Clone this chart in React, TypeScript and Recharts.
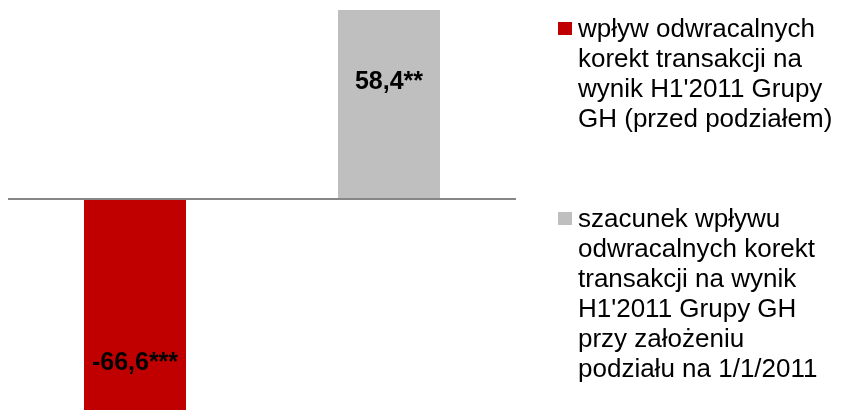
import React from "react";
import { BarChart, Bar, XAxis, YAxis, ReferenceLine, LabelList, Legend } from "recharts";

const categories = ["przed podziałem", "przy założeniu podziału"];
const seriesNames = [
  "wpływ odwracalnych\nkorekt transakcji na\nwynik H1'2011 Grupy\nGH (przed podziałem)",
  "szacunek wpływu\nodwracalnych korekt\ntransakcji na wynik\nH1'2011 Grupy GH\nprzy założeniu\npodziału na 1/1/2011",
];
const seriesA = [-66.6, null];
const seriesB = [null, 58.4];
const labelSuffixes = ["***", "**"];
const colors = ["#C00000", "#BFBFBF"];

const data = categories.map((c, i) => ({ cat: c, a: seriesA[i], b: seriesB[i] }));

const FONT = "'Liberation Sans', Arial, sans-serif";

const suffixFor = (value: number) => {
  for (let i = 0; i < categories.length; i++) {
    if (seriesA[i] === value || seriesB[i] === value) return labelSuffixes[i];
  }
  return "";
};

const renderLabel = (props: any) => {
  const { x, y, width, height, value } = props;
  if (value === null || value === undefined) return null;
  const top = Math.min(y, y + height);
  const h = Math.abs(height);
  const zero = value >= 0 ? top + h : top;
  const baseline = value >= 0 ? zero - 110 : zero + 171;
  const txt = String(value).replace(".", ",") + suffixFor(value);
  return (
    <text
      x={x + width / 2}
      y={baseline}
      textAnchor="middle"
      fontFamily={FONT}
      fontWeight="bold"
      fontSize={25}
      fill="#000"
    >
      {txt}
    </text>
  );
};

const itemTops = [13, 203];

const LegendContent = (props: any) => {
  const payload = [...(props.payload || [])].sort(
    (p: any, q: any) => seriesNames.indexOf(p.value) - seriesNames.indexOf(q.value)
  );
  return (
    <div style={{ position: "relative", width: 842, height: 410, fontFamily: FONT }}>
      {payload.map((p: any, i: number) => (
        <div key={i}>
          <div
            style={{
              position: "absolute",
              left: 558,
              top: itemTops[i] + 9,
              width: 14,
              height: 13,
              background: p.color,
            }}
          />
          <div
            style={{
              position: "absolute",
              left: 578,
              top: itemTops[i],
              fontSize: 26,
              lineHeight: "30px",
              color: "#000",
              whiteSpace: "pre",
            }}
          >
            {p.value}
          </div>
        </div>
      ))}
    </div>
  );
};

export default function App() {
  return (
    <div style={{ position: "fixed", top: 0, left: 0, width: 842, height: 410 }}>
      <BarChart
        width={842}
        height={410}
        data={data}
        margin={{ top: 10, right: 326, bottom: 0, left: 8 }}
        barCategoryGap="30%"
      >
        <XAxis dataKey="cat" hide />
        <YAxis hide domain={[-65.2, 58.4]} allowDataOverflow type="number" />
        <Bar
          dataKey="a"
          name={seriesNames[0]}
          stackId="s"
          fill={colors[0]}
          barSize={102}
          isAnimationActive={false}
        >
          <LabelList dataKey="a" content={renderLabel} />
        </Bar>
        <Bar
          dataKey="b"
          name={seriesNames[1]}
          stackId="s"
          fill={colors[1]}
          barSize={102}
          isAnimationActive={false}
        >
          <LabelList dataKey="b" content={renderLabel} />
        </Bar>
        <ReferenceLine y={0} stroke="#878787" strokeWidth={2} />
        <Legend
          layout="vertical"
          align="center"
          verticalAlign="middle"
          wrapperStyle={{ left: 0, top: 0, width: 842, height: 410 }}
          content={<LegendContent />}
        />
      </BarChart>
    </div>
  );
}
